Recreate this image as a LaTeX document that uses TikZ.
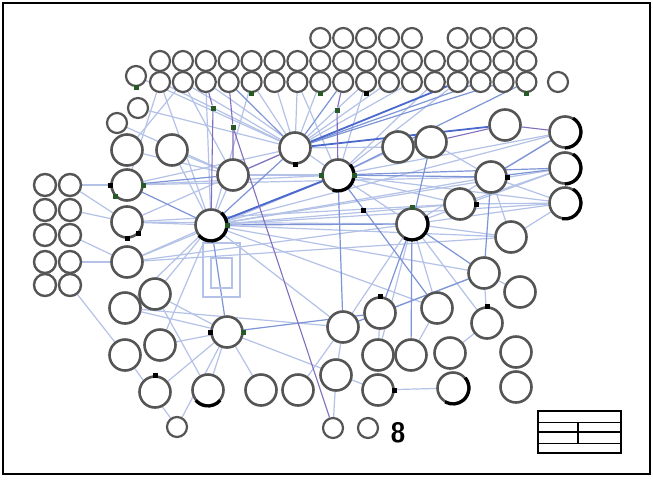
\documentclass[tikz,border=0pt]{standalone}
\usetikzlibrary{backgrounds}
\definecolor{lb}{RGB}{180,194,232}
\definecolor{mb}{RGB}{125,148,215}
\definecolor{db}{RGB}{75,105,205}
\definecolor{pu}{RGB}{130,110,190}
\definecolor{ring}{RGB}{85,85,85}
\definecolor{gmark}{RGB}{40,90,40}
\begin{document}
\begin{tikzpicture}[x=1pt,y=-1pt,
  cmed/.style={circle,draw=ring,line width=2.6pt,fill=white,minimum size=31pt,inner sep=0pt},
  csml/.style={circle,draw=ring,line width=2.2pt,fill=white,minimum size=20pt,inner sep=0pt},
  cgrd/.style={circle,draw=ring,line width=2.4pt,fill=white,minimum size=22pt,inner sep=0pt},
  lnlight/.style={draw=lb,line width=1.2pt},
  lnmid/.style={draw=mb,line width=1.2pt},
  lndark/.style={draw=db,line width=1.8pt},
  lnpurple/.style={draw=pu,line width=1.1pt},
  darkarc/.style={draw=black,line width=3.2pt},
  blkmark/.style={rectangle,fill=black,minimum size=5pt,inner sep=0pt},
  grnmark/.style={rectangle,fill=gmark,minimum size=5pt,inner sep=0pt}]
\useasboundingbox (0,0) rectangle (653,480);

% top rows of small circles
\foreach \i in {0,...,16}{
  \node[csml] (m\i) at ({160+22.9*\i},61) {};
  \node[csml] (t\i) at ({160+22.9*\i},82) {};
}
\foreach \i in {7,8,9,10,11,13,14,15,16}{
  \node[csml] (u\i) at ({160+22.9*\i},38) {};
}
\node[csml] (s0) at (558,82) {};
\node[csml] (a1) at (136,76) {};
\node[csml] (a2) at (138,108) {};
\node[csml] (a3) at (117,123) {};

% left grid
\foreach \j/\y in {1/185,2/210,3/235,4/262,5/285}{
  \node[cgrd] (g1\j) at (45,\y) {};
  \node[cgrd] (g2\j) at (70,\y) {};
}

% medium circles
\node[cmed] (L1) at (127,150) {};
\node[cmed] (L2) at (172,150) {};
\node[cmed] (L3) at (127,185) {};
\node[cmed] (L4) at (127,222) {};
\node[cmed] (L5) at (127,262) {};
\node[cmed] (L6) at (155,294) {};
\node[cmed] (L7) at (125,308) {};
\node[cmed] (L8) at (160,345) {};
\node[cmed] (L9) at (125,355) {};
\node[cmed] (L10) at (155,392) {};
\node[cmed] (b1) at (233,175) {};
\node[cmed] (b2) at (295,148) {};
\node[cmed] (b3) at (338,175) {};
\node[cmed] (b4) at (398,147) {};
\node[cmed] (b5) at (431,142) {};
\node[cmed] (b6) at (505,125) {};
\node[cmed] (r1) at (565,132) {};
\node[cmed] (r2) at (565,168) {};
\node[cmed] (r3) at (565,203) {};
\node[cmed] (b7) at (491,177) {};
\node[cmed] (b8) at (460,204) {};
\node[cmed] (d1) at (211,225) {};
\node[cmed] (d2) at (412,224) {};
\node[cmed] (b9) at (511,237) {};
\node[cmed] (b10) at (484,273) {};
\node[cmed] (b11) at (520,292) {};
\node[cmed] (p1) at (227,332) {};
\node[cmed] (p2) at (343,327) {};
\node[cmed] (p3) at (380,313) {};
\node[cmed] (p4) at (437,308) {};
\node[cmed] (p5) at (487,323) {};
\node[cmed] (p6) at (378,355) {};
\node[cmed] (p7) at (411,355) {};
\node[cmed] (p8) at (450,353) {};
\node[cmed] (p9) at (516,352) {};
\node[cmed] (p10) at (336,375) {};
\node[cmed] (p11) at (378,390) {};
\node[cmed] (p12) at (453,388) {};
\node[cmed] (p13) at (516,387) {};
\node[cmed] (n1) at (208,390) {};
\node[cmed] (n2) at (261,390) {};
\node[cmed] (n3) at (298,390) {};
\node[csml] (s1) at (177,427) {};
\node[csml] (s2) at (333,428) {};
\node[csml] (s3) at (368,428) {};

% green and black junction marks
\node[grnmark] (gd1) at (213,108) {};
\node[grnmark] (gd2) at (233,127) {};
\node[grnmark] (gd3) at (337,110) {};
\node[blkmark] (bd1) at (363,210) {};

% connectors
\begin{scope}[on background layer]
\fill[white] (0,0) rectangle (653,480);
\foreach \a/\b in {t1/b2,t4/b2,t5/b2,t6/b2,t7/b2,t9/b2,t10/b2,t11/b2,
  t0/b2,t2/b3,t6/b3,t9/b3,t12/b3,t13/b3,t0/d1,t2/d1,t4/d1,t1/b1,
  b2/b4,b1/d1,b1/L2,b1/b3,a2/b2,a3/b1,a1/b2,L1/b1,L2/d1,L3/g21,L3/b3,L3/b2,
  L4/g22,L4/d1,L4/b2,L5/g23,L5/d1,L5/b3,g24/L5,g25/L9,L6/d1,L6/p1,L7/d1,L7/p1,
  L8/d1,L8/p1,L9/s1,L10/p1,d1/b7,d1/b8,d1/r2,d1/b9,d1/p2,d1/b10,d1/p4,
  b3/r1,b3/r3,b3/d2,b3/b8,b3/b4,b7/r3,b7/b5,b8/r3,d2/p2,d2/p4,d2/b9,d2/p5,
  d2/r3,b10/p5,p1/n1,p1/n2,p1/s1,p1/p11,p10/s2,p3/p6,p4/p7,p11/p12,p5/p8,
  p2/p10,b9/b7,b11/b10,L3/t0,L1/t1,g21/L4,L6/n1,p2/n3,d2/p6,b10/p3,
  L4/b8,L4/d2,L5/d2,d1/r3,d2/r1,d2/r2,b8/r2,b9/r3,L3/b7,L5/b9,d1/r1,L7/p2}
  \draw[lnlight] (\a) -- (\b);
\foreach \a/\b in {t3/b2,t8/b2,t14/b2,t15/b2,t16/b3,b2/d1,b1/L3,d1/b3,d1/d2,
  b3/b7,b3/r2,b7/r1,b7/r2,b7/b10,b3/p2,d2/p3,d2/b10,d2/p7,b10/p2,p1/p3,d1/p1,
  d1/L3,b3/p4,b5/d2}
  \draw[lnmid] (\a) -- (\b);
\draw[lndark] (b2) -- (b6);
\draw[lndark] (b2) -- (t13);
\draw[lndark] (d1) -- (b3);
\draw[lnpurple] (t3) -- (gd2) -- (b1);
\draw[lnpurple] (gd2) -- (s2);
\draw[lnpurple] (t8) -- (gd3) -- (b3);
\draw[lnpurple] (t2) -- (gd1) -- (d1);
\draw[lnpurple] (b4) -- (b5);
\draw[lnpurple] (b5) -- (b6);
\draw[lnpurple] (b6) -- (r1);
\draw[lnpurple] (b1) -- (b2);
\draw[lnlight] (203,243) rectangle (240,297);
\draw[lnlight] (211,258) rectangle (232,288);
\end{scope}

\draw[line width=1.8pt] (3,3) rectangle (650,474);

% heavy dark arcs on some circles
\draw[darkarc] (d1.center) ++(-50:16) arc[start angle=-50,end angle=140,radius=16];
\draw[darkarc] (d2.center) ++(-30:16) arc[start angle=-30,end angle=120,radius=16];
\draw[darkarc] (b3.center) ++(-40:16) arc[start angle=-40,end angle=110,radius=16];
\draw[darkarc] (r1.center) ++(-60:16) arc[start angle=-60,end angle=90,radius=16];
\draw[darkarc] (r2.center) ++(-60:16) arc[start angle=-60,end angle=90,radius=16];
\draw[darkarc] (r3.center) ++(-60:16) arc[start angle=-60,end angle=100,radius=16];
\draw[darkarc] (p12.center) ++(-40:16) arc[start angle=-40,end angle=120,radius=16];
\draw[darkarc] (n1.center) ++(40:16) arc[start angle=40,end angle=140,radius=16];

% small square anchor marks
\node[blkmark] at (b2.south) {};
\node[blkmark] at (b7.east) {};
\node[blkmark] at (b8.east) {};
\node[blkmark] at (p3.north) {};
\node[blkmark] at (p5.north) {};
\node[blkmark] at (L10.north) {};
\node[blkmark] at (p11.east) {};
\node[blkmark] at (p1.west) {};
\node[grnmark] at (p1.east) {};
\node[blkmark] at (L3.west) {};
\node[grnmark] at (L3.east) {};
\node[grnmark] at (L3.south west) {};
\node[grnmark] at (d1.east) {};
\node[grnmark] at (b3.west) {};
\node[grnmark] at (b3.east) {};
\node[grnmark] at (d2.north) {};
\node[grnmark] at (a1.south) {};
\node[grnmark] at (t4.south) {};
\node[grnmark] at (t7.south) {};
\node[blkmark] at (t9.south) {};
\node[grnmark] at (t16.south) {};
\node[blkmark] at (L4.south) {};
\node[blkmark] at (L4.south east) {};

% digit and title block
\node (eight) at (398,433) {\fontsize{28}{28}\selectfont\sffamily\bfseries 8};
\draw[line width=1.5pt] (538,411) rectangle (621,453);
\draw[line width=0.9pt] (538,422) -- (621,422);
\draw[line width=1.8pt] (538,432) -- (621,432);
\draw[line width=0.9pt] (538,443) -- (621,443);
\draw[line width=1.8pt] (578,422) -- (578,443);
\end{tikzpicture}
\end{document}
